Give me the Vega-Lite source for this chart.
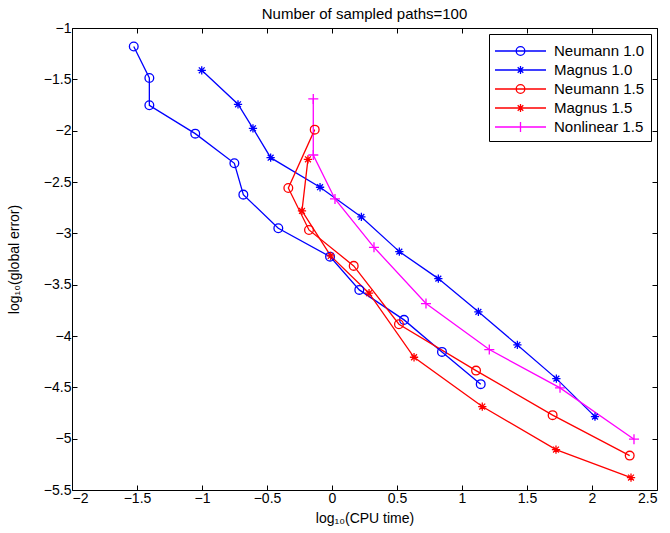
{
  "$schema": "https://vega.github.io/schema/vega-lite/v6.json",
  "width": 585,
  "height": 462,
  "autosize": "none",
  "padding": {"left": 72, "top": 28, "right": 13, "bottom": 43},
  "background": "white",
  "title": {"text": "Number of sampled paths=100", "fontSize": 15, "fontWeight": "normal", "font": "Liberation Sans", "color": "black", "offset": -1, "anchor": "middle"},
  "data": {"values": [
    {"s": "Neumann 1.0", "i": 0, "x": -1.525, "y": -1.18},
    {"s": "Neumann 1.0", "i": 1, "x": -1.405, "y": -1.487},
    {"s": "Neumann 1.0", "i": 2, "x": -1.405, "y": -1.753},
    {"s": "Neumann 1.0", "i": 3, "x": -1.052, "y": -2.029},
    {"s": "Neumann 1.0", "i": 4, "x": -0.751, "y": -2.318},
    {"s": "Neumann 1.0", "i": 5, "x": -0.682, "y": -2.623},
    {"s": "Neumann 1.0", "i": 6, "x": -0.413, "y": -2.951},
    {"s": "Neumann 1.0", "i": 7, "x": -0.015, "y": -3.227},
    {"s": "Neumann 1.0", "i": 8, "x": 0.21, "y": -3.551},
    {"s": "Neumann 1.0", "i": 9, "x": 0.554, "y": -3.843},
    {"s": "Neumann 1.0", "i": 10, "x": 0.846, "y": -4.155},
    {"s": "Neumann 1.0", "i": 11, "x": 1.144, "y": -4.469},
    {"s": "Magnus 1.0", "i": 0, "x": -1.002, "y": -1.412},
    {"s": "Magnus 1.0", "i": 1, "x": -0.723, "y": -1.743},
    {"s": "Magnus 1.0", "i": 2, "x": -0.608, "y": -1.977},
    {"s": "Magnus 1.0", "i": 3, "x": -0.472, "y": -2.263},
    {"s": "Magnus 1.0", "i": 4, "x": -0.092, "y": -2.551},
    {"s": "Magnus 1.0", "i": 5, "x": 0.226, "y": -2.84},
    {"s": "Magnus 1.0", "i": 6, "x": 0.518, "y": -3.178},
    {"s": "Magnus 1.0", "i": 7, "x": 0.818, "y": -3.441},
    {"s": "Magnus 1.0", "i": 8, "x": 1.126, "y": -3.765},
    {"s": "Magnus 1.0", "i": 9, "x": 1.426, "y": -4.087},
    {"s": "Magnus 1.0", "i": 10, "x": 1.726, "y": -4.415},
    {"s": "Magnus 1.0", "i": 11, "x": 2.023, "y": -4.785},
    {"s": "Neumann 1.5", "i": 0, "x": -0.133, "y": -1.99},
    {"s": "Neumann 1.5", "i": 1, "x": -0.336, "y": -2.558},
    {"s": "Neumann 1.5", "i": 2, "x": -0.177, "y": -2.967},
    {"s": "Neumann 1.5", "i": 3, "x": 0.167, "y": -3.317},
    {"s": "Neumann 1.5", "i": 4, "x": 0.515, "y": -3.885},
    {"s": "Neumann 1.5", "i": 5, "x": 1.108, "y": -4.337},
    {"s": "Neumann 1.5", "i": 6, "x": 1.697, "y": -4.771},
    {"s": "Neumann 1.5", "i": 7, "x": 2.29, "y": -5.165},
    {"s": "Magnus 1.5", "i": 0, "x": -0.185, "y": -2.279},
    {"s": "Magnus 1.5", "i": 1, "x": -0.231, "y": -2.782},
    {"s": "Magnus 1.5", "i": 2, "x": -0.01, "y": -3.22},
    {"s": "Magnus 1.5", "i": 3, "x": 0.285, "y": -3.583},
    {"s": "Magnus 1.5", "i": 4, "x": 0.631, "y": -4.207},
    {"s": "Magnus 1.5", "i": 5, "x": 1.156, "y": -4.687},
    {"s": "Magnus 1.5", "i": 6, "x": 1.723, "y": -5.106},
    {"s": "Magnus 1.5", "i": 7, "x": 2.3, "y": -5.379},
    {"s": "Nonlinear 1.5", "i": 0, "x": -0.144, "y": -1.691},
    {"s": "Nonlinear 1.5", "i": 1, "x": -0.144, "y": -2.237},
    {"s": "Nonlinear 1.5", "i": 2, "x": 0.023, "y": -2.665},
    {"s": "Nonlinear 1.5", "i": 3, "x": 0.323, "y": -3.136},
    {"s": "Nonlinear 1.5", "i": 4, "x": 0.723, "y": -3.684},
    {"s": "Nonlinear 1.5", "i": 5, "x": 1.21, "y": -4.132},
    {"s": "Nonlinear 1.5", "i": 6, "x": 1.754, "y": -4.505},
    {"s": "Nonlinear 1.5", "i": 7, "x": 2.323, "y": -5.005}
  ]},
  "layer": [
    {
      "mark": {"type": "line", "strokeWidth": 1.3},
      "encoding": {
        "x": {"field": "x", "type": "quantitative", "scale": {"domain": [-2, 2.5], "nice": false, "zero": false},
              "axis": {"orient": "bottom", "values": [-2, -1.5, -1, -0.5, 0, 0.5, 1, 1.5, 2, 2.5], "format": "~g", "title": "log₁₀(CPU time)", "titlePadding": 6}},
        "y": {"field": "y", "type": "quantitative", "scale": {"domain": [-5.5, -1], "nice": false, "zero": false},
              "axis": {"orient": "left", "values": [-5.5, -5, -4.5, -4, -3.5, -3, -2.5, -2, -1.5, -1], "format": "~g", "title": "log₁₀(global error)", "titlePadding": 22}},
        "color": {"field": "s", "type": "nominal",
                  "scale": {"domain": ["Neumann 1.0", "Magnus 1.0", "Neumann 1.5", "Magnus 1.5", "Nonlinear 1.5"], "range": ["#0000ff", "#0000ff", "#ff0000", "#ff0000", "#ff00ff"]},
                  "legend": {"title": null, "orient": "top-right", "offset": 6, "fillColor": "white", "strokeColor": "black", "padding": 6, "rowPadding": 0, "labelOffset": 37,
                             "labelFont": "Liberation Sans", "labelFontSize": 15, "labelColor": "black",
                             "encode": {"symbols": {"update": {"size": {"value": 400}, "strokeWidth": {"value": 1.3}, "fill": {"value": "transparent"}}}}}},
        "order": {"field": "i", "type": "quantitative"}
      }
    },
    {
      "transform": [{"filter": {"field": "s", "oneOf": ["Neumann 1.0", "Neumann 1.5"]}}],
      "mark": {"type": "point", "shape": "circle", "filled": false, "size": 76, "strokeWidth": 1.3, "opacity": 1},
      "encoding": {
        "x": {"field": "x", "type": "quantitative",
              "axis": {"orient": "top", "values": [-2, -1.5, -1, -0.5, 0, 0.5, 1, 1.5, 2, 2.5], "labels": false, "title": null}},
        "y": {"field": "y", "type": "quantitative",
              "axis": {"orient": "right", "values": [-5.5, -5, -4.5, -4, -3.5, -3, -2.5, -2, -1.5, -1], "labels": false, "title": null}},
        "color": {"field": "s", "type": "nominal"}
      }
    },
    {
      "transform": [{"filter": {"field": "s", "oneOf": ["Magnus 1.0", "Magnus 1.5"]}}],
      "mark": {"type": "point", "shape": "M-0.95,0H0.95M0,-0.95V0.95M-0.67,-0.67L0.67,0.67M-0.67,0.67L0.67,-0.67", "filled": false, "size": 76, "strokeWidth": 1.3, "opacity": 1},
      "encoding": {
        "x": {"field": "x", "type": "quantitative", "axis": null},
        "y": {"field": "y", "type": "quantitative", "axis": null},
        "color": {"field": "s", "type": "nominal"}
      }
    },
    {
      "transform": [{"filter": {"field": "s", "oneOf": ["Nonlinear 1.5"]}}],
      "mark": {"type": "point", "shape": "M-1.15,0H1.15M0,-1.15V1.15", "filled": false, "size": 76, "strokeWidth": 1.3, "opacity": 1},
      "encoding": {
        "x": {"field": "x", "type": "quantitative", "axis": null},
        "y": {"field": "y", "type": "quantitative", "axis": null},
        "color": {"field": "s", "type": "nominal"}
      }
    },
    {
      "mark": {"type": "point", "filled": false, "size": 0, "strokeWidth": 1.3, "opacity": 1},
      "encoding": {
        "x": {"field": "x", "type": "quantitative", "axis": null},
        "y": {"field": "y", "type": "quantitative", "axis": null},
        "color": {"field": "s", "type": "nominal"},
        "shape": {"field": "s", "type": "nominal",
                  "scale": {"domain": ["Neumann 1.0", "Magnus 1.0", "Neumann 1.5", "Magnus 1.5", "Nonlinear 1.5"],
                            "range": ["M-1.1,0H4M1.02,0A0.43,0.43 0 1 0 1.88,0A0.43,0.43 0 1 0 1.02,0", "M-1.1,0H4M1.45,-0.4V0.4M1.17,-0.28L1.73,0.28M1.17,0.28L1.73,-0.28", "M-1.1,0H4M1.02,0A0.43,0.43 0 1 0 1.88,0A0.43,0.43 0 1 0 1.02,0", "M-1.1,0H4M1.45,-0.4V0.4M1.17,-0.28L1.73,0.28M1.17,0.28L1.73,-0.28", "M-1.1,0H4M1.45,-0.5V0.5"]},
                  "legend": {"title": null, "orient": "top-right", "offset": 6, "fillColor": "white", "strokeColor": "black", "padding": 6, "rowPadding": 0, "labelOffset": 37,
                             "labelFont": "Liberation Sans", "labelFontSize": 15, "labelColor": "black",
                             "encode": {"symbols": {"update": {"size": {"value": 400}, "strokeWidth": {"value": 1.3}, "fill": {"value": "transparent"}}}}}}
      }
    }
  ],
  "resolve": {"axis": {"x": "independent", "y": "independent"}},
  "config": {
    "view": {"stroke": null},
    "axis": {"grid": false, "domainColor": "black", "domainWidth": 1, "tickColor": "black", "tickWidth": 1, "tickSize": -5,
             "labelColor": "black", "labelFont": "Liberation Sans", "labelFontSize": 14, "labelPadding": 6,
             "titleColor": "black", "titleFont": "Liberation Sans", "titleFontSize": 14, "titleFontWeight": "normal"}
  }
}
